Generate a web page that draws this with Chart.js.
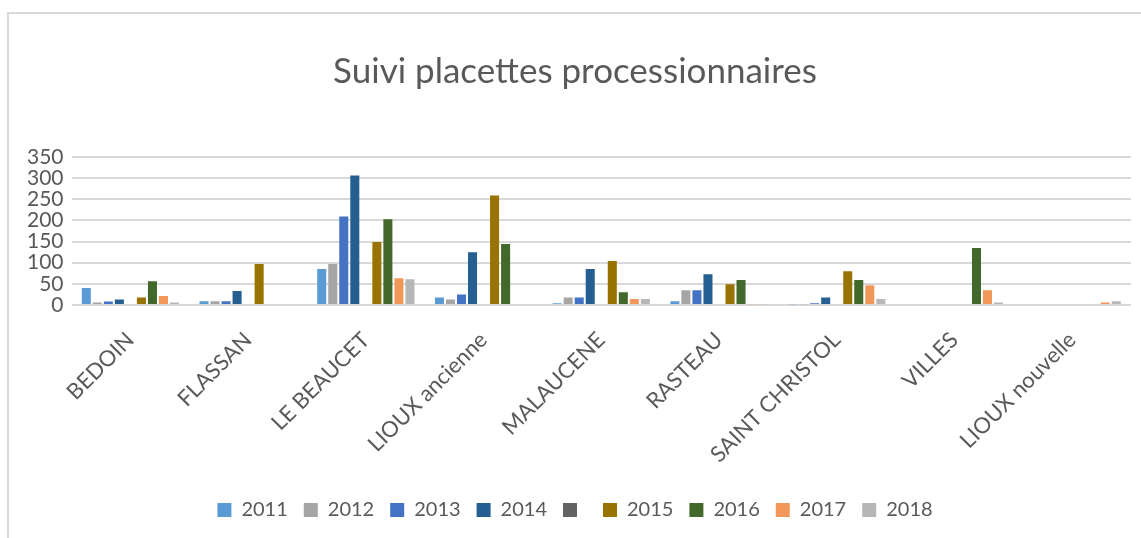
<!DOCTYPE html>
<html>
<head>
<meta charset="utf-8">
<script src="https://cdn.jsdelivr.net/npm/chart.js@4"></script>
<style>
  html, body { margin: 0; padding: 0; background: #fff; }
  #cadre {
    position: absolute; left: 7px; top: 12px; width: 1134px; height: 526px;
    border-left: 2px solid #d9d9d9; border-top: 2px solid #d9d9d9;
  }
  #wrap { position: absolute; left: 0; top: 0; width: 1141px; height: 538px; }
</style>
</head>
<body>
<div id="cadre"></div>
<div id="wrap"><canvas id="placettes"></canvas></div>
<script>
// Sites suivis
const sites = ['BEDOIN', 'FLASSAN', 'LE BEAUCET', 'LIOUX ancienne', 'MALAUCENE', 'RASTEAU', 'SAINT CHRISTOL', 'VILLES', 'LIOUX nouvelle'];

// Valeurs par année (null = pas de relevé)
const v2011 = [40, 9, 85, 18, 4, 9, 2, null, null];
const v2012 = [6, 9, 97, 13, 18, 35, 2, null, null];
const v2013 = [8, 9, 209, 25, 18, 35, 4, null, null];
const v2014 = [13, 33, 306, 125, 85, 73, 18, null, null];
const vVide = [null, null, null, null, null, null, null, null, null]; // série sans nom
const v2015 = [18, 97, 149, 259, 104, 49, 80, null, null];
const v2016 = [56, null, 203, 144, 30, 59, 59, 135, null];
const v2017 = [21, null, 63, null, 14, 2, 47, 35, 6];
const v2018 = [6, null, 61, null, 14, 2, 14, 6, 9];

const yTicks = [0, 50, 100, 150, 200, 250, 300, 350];

const gris = '#595959';
const police = 'Lato, "Open Sans", sans-serif';

const ctx = document.getElementById('placettes').getContext('2d');

const graphe = new Chart(ctx, {
  type: 'bar',
  data: {
    labels: sites,
    datasets: [
      { label: '2011', data: v2011, backgroundColor: '#5B9BD5' },
      { label: '2012', data: v2012, backgroundColor: '#A5A5A5' },
      { label: '2013', data: v2013, backgroundColor: '#4472C4' },
      { label: '2014', data: v2014, backgroundColor: '#255E91' },
      { label: '', data: vVide, backgroundColor: '#636363' },
      { label: '2015', data: v2015, backgroundColor: '#997300' },
      { label: '2016', data: v2016, backgroundColor: '#43682B' },
      { label: '2017', data: v2017, backgroundColor: '#F1975A' },
      { label: '2018', data: v2018, backgroundColor: '#B7B7B7' }
    ]
  },
  options: {
    responsive: true,
    maintainAspectRatio: false,
    animation: false,
    datasets: {
      bar: { barPercentage: 0.82, categoryPercentage: 0.843 }
    },
    layout: { padding: { left: 19, right: 10, top: 40, bottom: 8 } },
    scales: {
      y: {
        min: 0,
        max: 350,
        afterBuildTicks: s => { s.ticks = yTicks.map(v => ({ value: v })); },
        ticks: { color: gris, font: { family: police, size: 21 }, padding: 8, autoSkip: false },
        grid: { color: '#d9d9d9', lineWidth: 2, drawTicks: false },
        border: { display: false }
      },
      x: {
        ticks: {
          color: gris, font: { family: police, size: 22 },
          minRotation: 45, maxRotation: 45, padding: 14
        },
        grid: { display: false },
        border: { display: false },
        afterFit: s => { s.height = 179; }
      }
    },
    plugins: {
      title: {
        display: true,
        text: 'Suivi placettes processionnaires',
        color: gris,
        font: { family: police, size: 35, weight: 'normal' },
        padding: { top: 11, bottom: 64 }
      },
      legend: {
        display: true,
        position: 'bottom',
        labels: {
          color: gris,
          font: { family: police, size: 20 },
          boxWidth: 14,
          boxHeight: 14,
          padding: 16
        }
      },
      tooltip: { enabled: false }
    }
  }
});
</script>
</body>
</html>
